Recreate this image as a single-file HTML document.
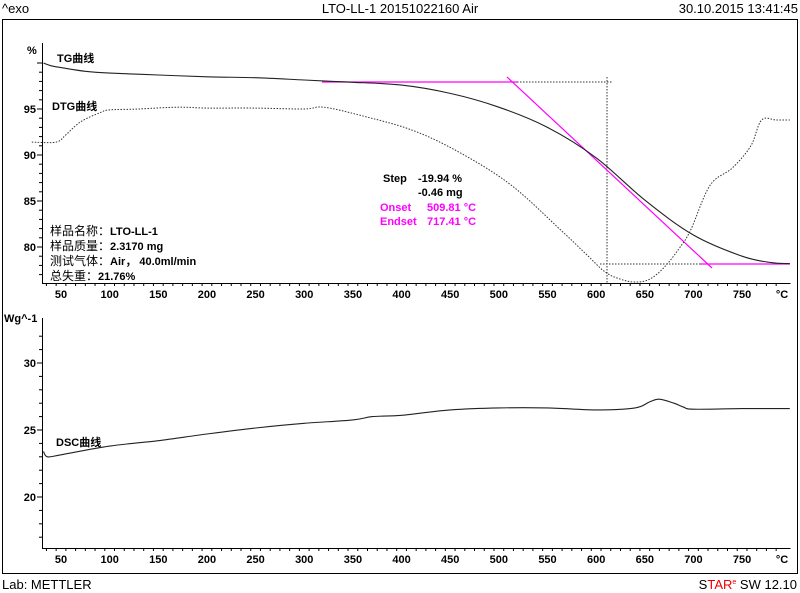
<!DOCTYPE html>
<html><head><meta charset="utf-8"><style>
body{margin:0;background:#fff;width:800px;height:593px;overflow:hidden}
svg{display:block}
text{font-family:"Liberation Sans","Noto Sans CJK SC",sans-serif}
.b{font-weight:bold;font-size:11px}
</style></head><body>
<svg id="c" width="800" height="593" viewBox="0 0 800 593">
<text x="2" y="13" font-size="13">^exo</text>
<text x="400" y="13" font-size="13" text-anchor="middle">LTO-LL-1 20151022160 Air</text>
<text x="798" y="13" font-size="13" text-anchor="end">30.10.2015 13:41:45</text>
<rect x="2.5" y="19.5" width="795" height="554" fill="none" stroke="#000"/>
<text x="2" y="589" font-size="13">Lab: METTLER</text>
<text x="797" y="589" font-size="13" text-anchor="end">S<tspan fill="#e00">TAR</tspan><tspan font-size="7" dy="-5" fill="#e00">e</tspan><tspan dy="5"> SW 12.10</tspan></text>
<g id="g"></g>
</svg>
<script>
const tgT=[32,40,50,75,100,150,200,250,300,330,350,400,450,500,550,600,650,700,750,780,799];
const tgV=[100.0,99.7,99.5,99.1,98.9,98.7,98.5,98.4,98.15,98.0,97.9,97.6,96.7,95.2,93.0,89.7,85.1,81.3,79.0,78.3,78.2];
const dtgT=[20,45,55,70,90,100,130,170,200,250,300,320,358,411,461,513,564,590,609,625,640,655,670,685,697,717,740,759,770,785,799];
const dtgV=[91.4,91.4,92.2,93.6,94.6,94.9,95.0,95.2,95.1,95.1,95.0,95.2,94.3,92.7,90.2,86.7,81.8,79.2,77.3,76.5,76.2,76.5,77.8,79.8,81.8,86.7,88.6,91.0,93.8,93.8,93.8];
const dscT=[32,36,50,100,150,200,250,300,350,370,400,450,500,550,600,640,655,665,680,690,700,750,799];
const dscV=[23.4,23.0,23.15,23.8,24.2,24.7,25.15,25.5,25.75,26.0,26.1,26.5,26.65,26.65,26.5,26.65,27.1,27.3,27.0,26.7,26.55,26.6,26.6];
const xTicks=[50,100,150,200,250,300,350,400,450,500,550,600,650,700,750];
const topTicks=[80,85,90,95];
const botTicks=[20,25,30];
const NS="http://www.w3.org/2000/svg";
const g=document.getElementById('g');
function X(t){return 61+(t-50)*0.973;}
function YT(v){return 109+(95-v)*9.2;}
function YB(v){return 430-(v-25)*13.4;}
function el(tag,a,txt){const e=document.createElementNS(NS,tag);for(const k in a)e.setAttribute(k,a[k]);if(txt!=null)e.textContent=txt;g.appendChild(e);return e;}
function path(T,V,fy){
  const P=T.map((t,i)=>[X(t),fy(V[i])]);
  let d='M'+P[0][0].toFixed(1)+' '+P[0][1].toFixed(1);
  for(let i=0;i<P.length-1;i++){
    const p0=P[Math.max(0,i-1)],p1=P[i],p2=P[i+1],p3=P[Math.min(P.length-1,i+2)];
    const c1=[p1[0]+(p2[0]-p0[0])/6,p1[1]+(p2[1]-p0[1])/6];
    const c2=[p2[0]-(p3[0]-p1[0])/6,p2[1]-(p3[1]-p1[1])/6];
    d+=` C${c1[0].toFixed(1)} ${c1[1].toFixed(1)} ${c2[0].toFixed(1)} ${c2[1].toFixed(1)} ${p2[0].toFixed(1)} ${p2[1].toFixed(1)}`;
  }
  return d;
}
[[43,283],[43,548]].forEach(([top,bot],k)=>{
  const a=el('path',{d:`M42.5 ${k?318:43} V${bot+0.5} H790.5`,stroke:'#000',fill:'none'});
  
  for(let t=35;t<=790;t+=10){const x=X(t);if(x<43||x>790)continue;const big=t%50==0;
    el('line',{x1:x,x2:x,y1:bot,y2:bot+(big?5:3),stroke:'#000'});}
  xTicks.forEach(t=>{const tx=el('text',{x:X(t),y:bot+15,'text-anchor':'middle',class:'b'},t);
    });
  const u=el('text',{x:782,y:bot+15,'text-anchor':'middle',class:'b'},'°C');
  
});
for(let v=77;v<=100;v++){const y=YT(v);if(y<43||y>283)continue;el('line',{x1:v%5?39:37,x2:42,y1:y,y2:y,stroke:'#000'});}
topTicks.forEach(v=>{const t=el('text',{x:36,y:YT(v)+4,'text-anchor':'end',class:'b'},v);
  });
for(let v=17;v<=32;v++){const y=YB(v);if(y<318||y>548)continue;el('line',{x1:v%5?39:37,x2:42,y1:y,y2:y,stroke:'#000'});}
botTicks.forEach(v=>{const t=el('text',{x:36,y:YB(v)+4,'text-anchor':'end',class:'b'},v);
  });
let t=el('text',{x:27,y:54,class:'b'},'%');
t=el('text',{x:4,y:322,class:'b'},'Wg^-1');
el('path',{d:'M508 82 H612 M607 77 V283 M600 264 H700',stroke:'#333','stroke-dasharray':'1.5 1.5',fill:'none'});
let m=el('path',{d:'M322 82 H517 M507 77 L712 268 M700 264 H790',stroke:'#f0f','stroke-width':1.2,fill:'none'});

let p=el('path',{d:path(dtgT,dtgV,YT),stroke:'#333','stroke-dasharray':'1.5 1.5',fill:'none'});

p=el('path',{d:path(tgT,tgV,YT),stroke:'#222','stroke-width':1.1,fill:'none'});

p=el('path',{d:path(dscT,dscV,YB),stroke:'#222','stroke-width':1.1,fill:'none'});

[['TG曲线',57,62,'tg-label'],['DTG曲线',52,110,'dtg-label'],['DSC曲线',56,446,'dsc-label']].forEach(a=>{
  const e=el('text',{x:a[1],y:a[2],class:'b'},a[0]);});
[['Step',383,182,'#000'],['-19.94 %',418,182,'#000'],['-0.46 mg',418,196,'#000'],['Onset',380,211,'#f0f'],['509.81 °C',427,211,'#f0f'],['Endset',380,225,'#f0f'],['717.41 °C',427,225,'#f0f']].forEach(a=>{
  const e=el('text',{x:a[1],y:a[2],class:'b',fill:a[3]},a[0]);});
[['样品名称：','LTO-LL-1',235],['样品质量：','2.3170 mg',250],['测试气体：','Air， 40.0ml/min',265],['总失重：','21.76%',280]].forEach(a=>{
  const e=el('text',{x:50,y:a[2],'font-size':12});
  
  const s1=document.createElementNS(NS,'tspan');s1.textContent=a[0];e.appendChild(s1);
  const s2=document.createElementNS(NS,'tspan');s2.setAttribute('font-weight','bold');s2.setAttribute('font-size','11');s2.textContent=a[1];e.appendChild(s2);
});
</script>
</body></html>
